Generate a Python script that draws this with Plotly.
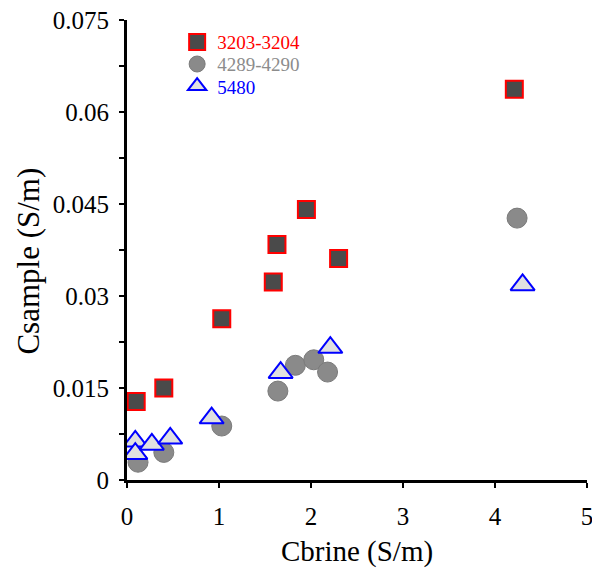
import plotly.graph_objects as go

# 3203-3204
sq_x = [0.10, 0.40, 1.03, 1.59, 1.63, 1.95, 2.30, 4.21]
sq_y = [0.0128, 0.0150, 0.0263, 0.0323, 0.0384, 0.0441, 0.0361, 0.0637]
# 4289-4290
ci_x = [0.12, 0.40, 1.03, 1.64, 1.83, 2.03, 2.18, 4.24]
ci_y = [0.0029, 0.0045, 0.0088, 0.0145, 0.0187, 0.0196, 0.0176, 0.0427]
# 5480
tr_x = [0.09, 0.09, 0.27, 0.47, 0.92, 1.67, 2.21, 4.30]
tr_y = [0.0063, 0.0043, 0.0058, 0.0068, 0.0101, 0.0175, 0.0216, 0.0318]

y_tickvals = [0, 0.015, 0.03, 0.045, 0.06, 0.075]
y_ticktext = ["0", "0.015", "0.03", "0.045", "0.06", "0.075"]
x_tickvals = [0, 1, 2, 3, 4, 5]
x_ticktext = ["0", "1", "2", "3", "4", "5"]

FONT = "Times New Roman"

fig = go.Figure()
fig.add_trace(go.Scatter(
    x=ci_x, y=ci_y, mode="markers", name="4289-4290", legend="legend2",
    marker=dict(symbol="circle", size=20, color="#8a8a8a", line=dict(color="#7a7a7a", width=1))))
fig.add_trace(go.Scatter(
    x=tr_x, y=tr_y, mode="markers", name="5480", legend="legend3",
    marker=dict(symbol="triangle-up", size=21, color="#e0e0e0", line=dict(color="#0000ff", width=2))))
fig.add_trace(go.Scatter(
    x=sq_x, y=sq_y, mode="markers", name="3203-3204", legend="legend",
    marker=dict(symbol="square", size=17, color="#4a4a4a", line=dict(color="#ff0000", width=2))))

def leg(y, color):
    return dict(x=0.109, y=y, xanchor="left", yanchor="middle",
                bgcolor="rgba(0,0,0,0)", font=dict(size=19, family=FONT, color=color),
                itemsizing="trace")

fig.update_layout(
    width=592, height=578,
    margin=dict(l=127, r=5, t=20, b=98, autoexpand=False),
    paper_bgcolor="white", plot_bgcolor="white",
    font=dict(family=FONT, color="black"),
    showlegend=True,
    legend=leg(0.952, "#ff0000"),
    legend2=leg(0.904, "#8c8c8c"),
    legend3=leg(0.856, "#0000ff"),
    xaxis=dict(range=[0, 5], tickvals=x_tickvals, ticktext=x_ticktext,
               showline=True, linecolor="black", linewidth=3, automargin=False,
               ticks="outside", ticklen=5, tickwidth=2, tickcolor="black",
               ticklabeloverflow="allow", ticklabelstandoff=7,
               showgrid=False, zeroline=False, tickfont=dict(size=25, family=FONT),
               title=dict(text="Cbrine (S/m)", font=dict(size=29, family=FONT), standoff=12)),
    yaxis=dict(range=[0, 0.075], tickvals=y_tickvals, ticktext=y_ticktext,
               showline=True, linecolor="black", linewidth=3, automargin=False,
               ticks="outside", ticklen=5, tickwidth=2, tickcolor="black",
               ticklabeloverflow="allow", ticklabelstandoff=5,
               minor=dict(dtick=0.0075, ticks="outside", ticklen=5, tickwidth=2, tickcolor="black"),
               showgrid=False, zeroline=False, tickfont=dict(size=25, family=FONT)),
    annotations=[dict(text="Csample (S/m)", textangle=-90, xref="paper", yref="paper",
                      x=-0.215, y=0.475, xanchor="center", yanchor="middle", showarrow=False,
                      font=dict(size=31, family=FONT, color="black"))],
)

fig.write_html("out.html")
